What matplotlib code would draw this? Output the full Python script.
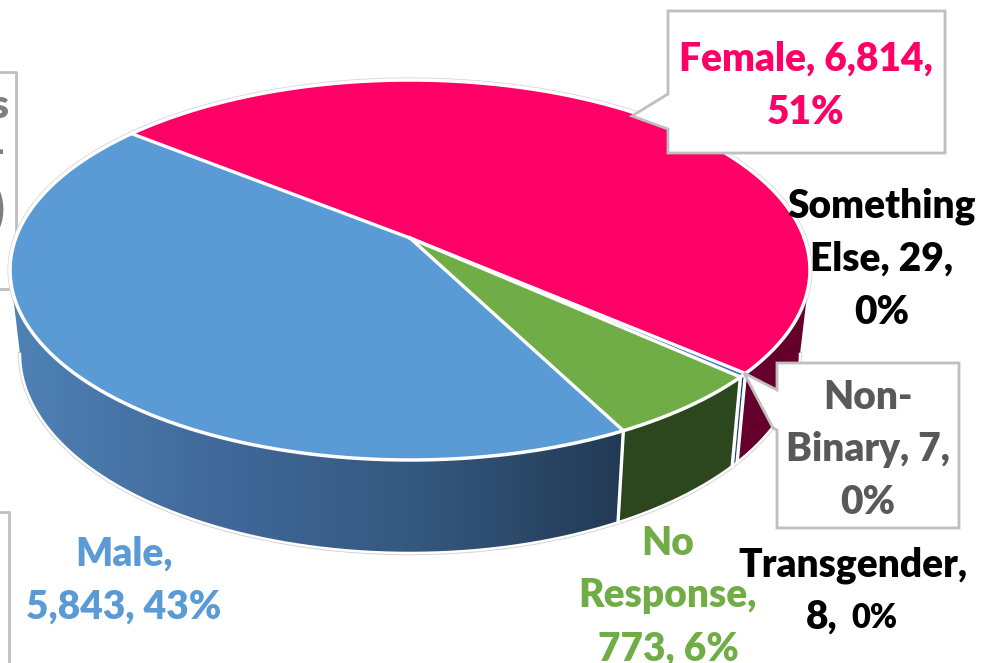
import numpy as np
import matplotlib
matplotlib.use('Agg')
import matplotlib.pyplot as plt
from matplotlib.colors import LinearSegmentedColormap
from matplotlib.patches import Polygon

plt.rcParams['font.family'] = ['Lato', 'DejaVu Sans']

# -------------------- Data --------------------
categories = ['Female', 'Something Else', 'Non-Binary', 'Transgender', 'No Response', 'Male']
values = [6814, 29, 7, 8, 773, 5843]
top_colors = ['#ff0066', '#4472c4', '#4472c4', '#4472c4', '#70ad47', '#5b9bd5']
wall_colors = ['#65002c', '#263f6e', '#263f6e', '#263f6e', '#2c461e', '#4d80b3']
male_wall_stops = ['#4f82b6', '#41699a', '#34587e', '#233a55']

# -------------------- Pie geometry (pixels) --------------------
start_angle = 141.3
top_rim = (410, 270, 400, 190)
bottom_rim = (410, 354, 390, 199)
k = 0.168  # perspective shift of the pie centre
right_limit = -np.degrees(np.arcsin(k))
left_limit = -180 - right_limit


def project(theta, rim):
    cx, cy, a, b = rim
    t = np.radians(theta)
    d = 1 + k * np.sin(t)
    x = np.sqrt(1 - k ** 2) * np.cos(t) / d
    y = (np.sin(t) + k) / d
    return cx + a * x, cy - b * y


fig = plt.figure(figsize=(9.82, 6.63), dpi=100)
ax = fig.add_axes([0, 0, 1, 1])
ax.set_xlim(0, 982)
ax.set_ylim(663, 0)
ax.axis('off')

# -------------------- Boxes cut by the edge, behind the pie --------------------
box_grey = '#bfbfbf'
ax.plot([0, 16, 16], [72, 72, 289], color=box_grey, lw=2, zorder=1)
ax.plot([0, 16], [289, 289], color=box_grey, lw=2, zorder=1)
ax.plot([0, 9, 9], [512, 512, 663], color=box_grey, lw=2, zorder=1)
ax.text(8, 107, 's', ha='right', va='center', fontsize=29, fontweight='heavy', color='#7f7f7f', zorder=1)
ax.text(5, 152, '-', ha='right', va='center', fontsize=29, fontweight='heavy', color='#7f7f7f', zorder=1)
ax.text(5, 210, ')', ha='right', va='center', fontsize=38, fontweight='heavy', color='#7f7f7f', zorder=1)

# -------------------- Slice angles --------------------
fractions = np.array(values) / sum(values)
edges = start_angle - np.concatenate([[0], np.cumsum(fractions) * 360])

# -------------------- Outer hairline --------------------
full = np.linspace(0, 360, 721)
tx, ty = project(full, top_rim)
ax.plot(tx, ty, color='#d4d4d4', lw=3.6, zorder=2)
arc = np.linspace(left_limit, right_limit, 400)
bx, by = project(arc, bottom_rim)
ax.plot(bx, by, color='#d4d4d4', lw=3.2, zorder=2)
ax.fill(tx, ty, color='white', zorder=2)

# -------------------- Side walls --------------------
for i, name in enumerate(categories):
    hi, lo = edges[i], edges[i + 1]
    if name == 'Female':
        hi = right_limit
    if name == 'Male':
        lo = left_limit
    th = np.linspace(hi, lo, 200)
    xt, yt = project(th, top_rim)
    xb, yb = project(th, bottom_rim)
    pts = np.column_stack([np.r_[xt, xb[::-1]], np.r_[yt, yb[::-1]]])
    if name == 'Male':
        poly = Polygon(pts, closed=True, facecolor='none', edgecolor='none', zorder=3)
        ax.add_patch(poly)
        cmap = LinearSegmentedColormap.from_list('wall', male_wall_stops)
        im = ax.imshow(np.linspace(0, 1, 256).reshape(1, -1), cmap=cmap, aspect='auto',
                       extent=(10, 622, 560, 260), zorder=3)
        im.set_clip_path(poly)
    else:
        ax.fill(pts[:, 0], pts[:, 1], color=wall_colors[i], lw=0, zorder=3)
ax.set_xlim(0, 982)
ax.set_ylim(663, 0)

# white lines between the walls and along the lower rim
for edge in [edges[1], edges[4], edges[5]]:
    x0, y0 = project(edge, top_rim)
    x1, y1 = project(edge, bottom_rim)
    ax.plot([x0, x1], [y0, y1], color='white', lw=2.4, zorder=4)
ax.plot(bx, by, color='white', lw=1.8, zorder=4)

# -------------------- Top face --------------------
for i, name in enumerate(categories):
    th = np.linspace(edges[i], edges[i + 1], 300)
    xt, yt = project(th, top_rim)
    ax.fill(np.r_[410, xt], np.r_[238, yt], color=top_colors[i], lw=0, zorder=5)
for edge in [edges[0], edges[1], edges[4], edges[5]]:
    x0, y0 = project(edge, top_rim)
    ax.plot([410, x0], [238, y0], color='white', lw=2.4, zorder=6)
ax.plot(tx, ty, color='white', lw=2.5, zorder=6)

# -------------------- Callouts --------------------
female_box = [(668, 11), (945, 11), (945, 153), (668, 153), (668, 129), (632, 116), (668, 94)]
binary_box = [(777, 363), (959, 363), (959, 528), (777, 528), (777, 430), (773, 428), (744, 373), (777, 390)]
for box in [female_box, binary_box]:
    ax.add_patch(Polygon(box, closed=True, facecolor='white', edgecolor=box_grey, lw=2,
                         joinstyle='miter', zorder=7))

# -------------------- Labels --------------------
labels = [
    ('Female, 6,814,\n51%', 806, 86, '#ff0066'),
    ('Something\nElse, 29,\n0%', 882, 259, 'black'),
    ('Non-\nBinary, 7,\n0%', 868, 450, '#595959'),
    ('Transgender,', 853, 565, 'black'),
    ('No\nResponse,\n773, 6%', 668, 596, '#70ad47'),
    ('Male,\n5,843, 43%', 124, 581, '#5b9bd5'),
]
for text, x, y, color in labels:
    ax.text(x, y, text, ha='center', va='center', fontsize=28, fontweight='heavy',
            color=color, linespacing=1.53, zorder=8)
ax.text(838, 617, '8,', ha='right', va='center', fontsize=28, fontweight='heavy', color='black', zorder=8)
ax.text(851, 618, '0%', ha='left', va='center', fontsize=23.5, fontweight='heavy', color='black', zorder=8)

fig.savefig('out.png', dpi=100)
